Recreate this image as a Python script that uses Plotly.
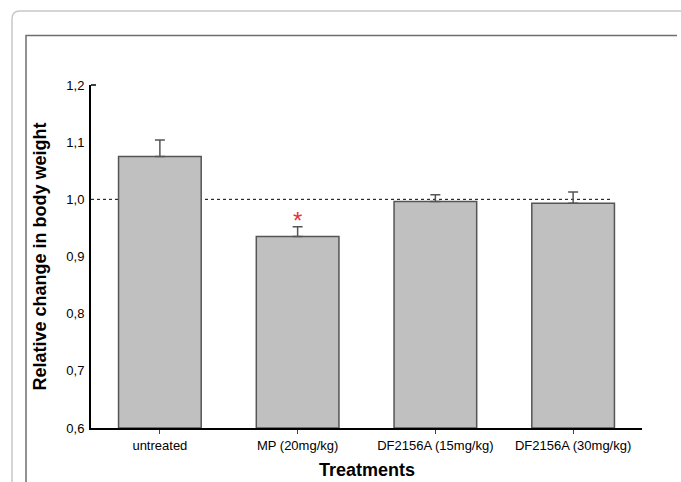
import plotly.graph_objects as go

categories = ["untreated", "MP (20mg/kg)", "DF2156A (15mg/kg)", "DF2156A (30mg/kg)"]
values = [1.075, 0.935, 0.996, 0.993]
errors_up = [0.029, 0.017, 0.012, 0.020]
significant = [False, True, False, False]
reference_level = 1.0
y_ticks = [0.6, 0.7, 0.8, 0.9, 1.0, 1.1, 1.2]

W, H = 681, 482
L, R, T, B = 91, 642, 85, 428  # plot area in pixels


def px(x):
    return (x - L) / (R - L)


def py(y):
    return (B - y) / (B - T)


fig = go.Figure()
fig.add_trace(go.Bar(
    x=list(range(len(categories))),
    y=[v - 0.6 for v in values],
    base=0.6,
    width=0.6,
    marker=dict(color="#c0c0c0", line=dict(color="#555555", width=1.5)),
    error_y=dict(type="data", symmetric=False, array=errors_up,
                 arrayminus=[0] * len(errors_up),
                 color="#555555", thickness=1.5, width=5),
    hoverinfo="skip",
))

shapes = [
    # dotted reference line
    dict(type="line", xref="paper", yref="y", x0=0, x1=px(612),
         y0=reference_level, y1=reference_level,
         line=dict(color="black", width=1, dash="dot"), layer="below"),
    # outer rounded frame
    dict(type="path", xref="paper", yref="paper",
         path=(f"M {px(12)},{py(700)} L {px(12)},{py(19)} "
               f"Q {px(12)},{py(11)} {px(20)},{py(11)} L {px(700)},{py(11)}"),
         line=dict(color="#c8c8c8", width=1.5)),
    # inner frame
    dict(type="path", xref="paper", yref="paper",
         path=(f"M {px(26)},{py(700)} L {px(26)},{py(35.5)} "
               f"L {px(677)},{py(35.5)}"),
         line=dict(color="#6e6e6e", width=1.5)),
    # small inward tick at the top of the y axis
    dict(type="line", xref="paper", yref="paper", x0=0, x1=px(96),
         y0=1, y1=1, line=dict(color="black", width=1.5)),
]

annotations = [
    dict(text="<b>Relative change in body weight</b>", textangle=-90,
         xref="paper", yref="paper", x=px(39), y=py(256.5),
         xanchor="center", yanchor="middle", showarrow=False,
         font=dict(size=18, color="black")),
    dict(text="<b>Treatments</b>", xref="paper", yref="paper",
         x=px(366.5), y=py(458), xanchor="center", yanchor="top",
         showarrow=False, font=dict(size=18, color="black")),
]
for i, (v, e, s) in enumerate(zip(values, errors_up, significant)):
    if s:
        annotations.append(dict(text="*", x=i, y=v + e, xref="x", yref="y",
                                yanchor="bottom", yshift=-9, showarrow=False,
                                font=dict(size=24, color="#e8303a")))

fig.update_layout(
    width=W, height=H,
    margin=dict(l=L, r=W - R, t=T, b=H - B, autoexpand=False),
    paper_bgcolor="white", plot_bgcolor="white",
    separators=",.",
    font=dict(family="Liberation Sans, Arial, sans-serif", color="black"),
    showlegend=False,
    shapes=shapes,
    annotations=annotations,
    bargap=0.4,
)
fig.update_xaxes(
    range=[-0.5, 3.5], tickmode="array", tickvals=list(range(len(categories))),
    ticktext=categories, ticks="outside", ticklen=4, tickcolor="#444",
    tickwidth=1, showline=True, linecolor="black", linewidth=2,
    showgrid=False, zeroline=False, tickfont=dict(size=13),
)
fig.update_yaxes(
    range=[0.6, 1.2], tickmode="array", tickvals=y_ticks,
    tickformat=".1f", ticks="", showline=True, linecolor="black",
    linewidth=2, showgrid=False, zeroline=False, tickfont=dict(size=13),
    ticklabelstandoff=2,
)

fig.write_html(
    "out.html",
    config={"displayModeBar": False},
    post_script="document.body.style.margin='0px';document.body.style.overflow='hidden';",
)
